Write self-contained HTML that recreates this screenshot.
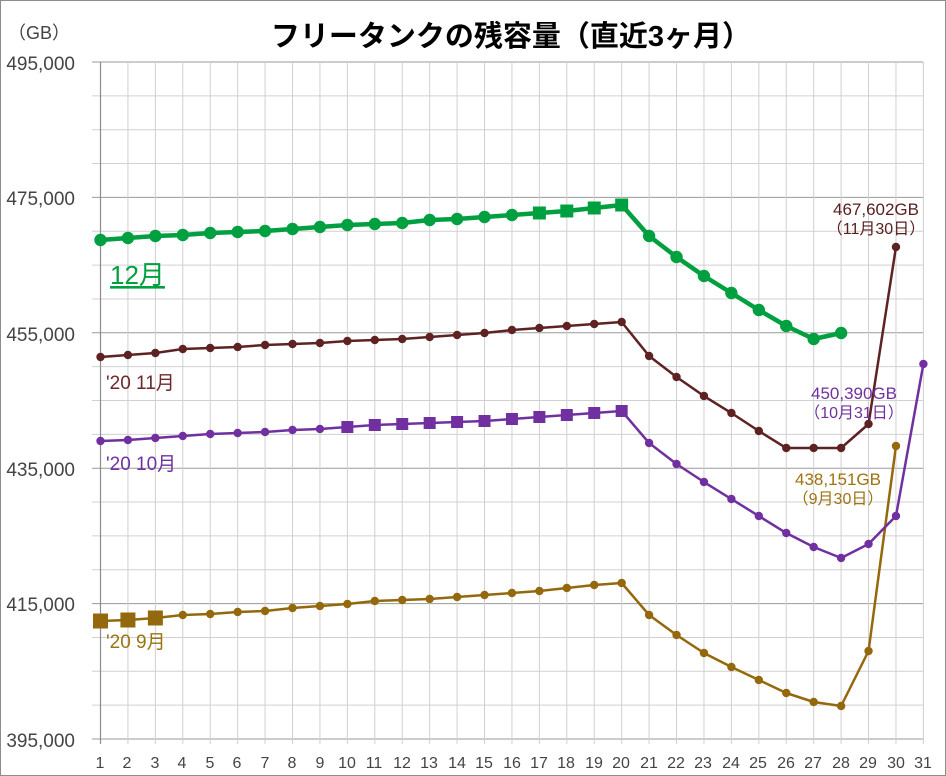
<!DOCTYPE html>
<html><head><meta charset="utf-8"><style>
body{margin:0;background:#fff}
svg{display:block;font-family:"Liberation Sans","Noto Sans CJK JP",sans-serif}
</style></head><body>
<svg id="s" width="946" height="776" viewBox="0 0 946 776" xmlns="http://www.w3.org/2000/svg">
<rect x="0.5" y="0.5" width="945" height="775" fill="#fff" stroke="#8c8c8c"/>
<g id="grid"></g>
<g id="series"></g>
<text x="511" y="46" text-anchor="middle" font-size="29" font-weight="bold" fill="#000">フリータンクの残容量（直近3ヶ月）</text>
<text x="8" y="39" font-size="18" fill="#444">（GB）</text>
<g font-size="19" fill="#444" text-anchor="end">
<text x="75" y="70">495,000</text><text x="75" y="205">475,000</text><text x="75" y="341">455,000</text>
<text x="75" y="476">435,000</text><text x="75" y="611">415,000</text><text x="75" y="747">395,000</text>
</g>
<g id="xl" font-size="16" fill="#444" text-anchor="middle">
<text x="100" y="768">1</text><text x="127" y="768">2</text><text x="155" y="768">3</text><text x="182" y="768">4</text><text x="210" y="768">5</text><text x="237" y="768">6</text><text x="265" y="768">7</text><text x="292" y="768">8</text><text x="320" y="768">9</text><text x="347" y="768">10</text><text x="374" y="768">11</text><text x="402" y="768">12</text><text x="429" y="768">13</text><text x="457" y="768">14</text><text x="484" y="768">15</text><text x="512" y="768">16</text><text x="539" y="768">17</text><text x="566" y="768">18</text><text x="594" y="768">19</text><text x="621" y="768">20</text><text x="649" y="768">21</text><text x="676" y="768">22</text><text x="703" y="768">23</text><text x="731" y="768">24</text><text x="758" y="768">25</text><text x="786" y="768">26</text><text x="813" y="768">27</text><text x="841" y="768">28</text><text x="868" y="768">29</text><text x="896" y="768">30</text><text x="923" y="768">31</text>
</g>
<text x="110" y="284" font-size="26" fill="#00a040" text-decoration="underline">12月</text>
<text x="106" y="389" font-size="19" fill="#6b2a2a">'20 11月</text>
<text x="106" y="470" font-size="19" fill="#7030a0">'20 10月</text>
<text x="106" y="648" font-size="19" fill="#9c7410">'20 9月</text>
<text x="876" y="215" font-size="17" fill="#5a2020" text-anchor="middle">467,602GB</text>
<text x="876" y="234" font-size="16" fill="#5a2020" text-anchor="middle">（11月30日）</text>
<text x="854" y="399" font-size="17" fill="#7030a0" text-anchor="middle">450,390GB</text>
<text x="854" y="418" font-size="16" fill="#7030a0" text-anchor="middle">（10月31日）</text>
<text x="838" y="485" font-size="17" fill="#9c7410" text-anchor="middle">438,151GB</text>
<text x="838" y="504" font-size="16" fill="#9c7410" text-anchor="middle">（9月30日）</text>
</svg>
<script>
var NS="http://www.w3.org/2000/svg";
function el(p,t,a){var e=document.createElementNS(NS,t);for(var k in a)e.setAttribute(k,a[k]);p.appendChild(e);return e;}
var g=document.getElementById('grid'),S=document.getElementById('series');
function X(d){return 100.5+(d-1)*27.43;}
for(var i=0;i<=20;i++){var y=62+i*677/20;var maj=i%4==0;el(g,'line',{x1:92,x2:923,y1:y,y2:y,stroke:maj?'#9a9a9a':'#d0d0d0','stroke-width':1});}
for(var d=2;d<=31;d++){el(g,'line',{x1:X(d),x2:X(d),y1:62,y2:744,stroke:'#d0d0d0','stroke-width':1});}
el(g,'line',{x1:100.5,x2:100.5,y1:62,y2:744,stroke:'#8c8c8c','stroke-width':1.2});
function ser(ys,col,w,r,sq,sr){var pts=ys.map(function(y,i){return X(i+1)+','+y}).join(' ');
el(S,'polyline',{points:pts,fill:'none',stroke:col,'stroke-width':w,'stroke-linejoin':'round'});
ys.forEach(function(y,i){var d=i+1;if(sq.indexOf(d)>=0){el(S,'rect',{x:X(d)-sr,y:y-sr,width:sr*2,height:sr*2,fill:col});}else el(S,'circle',{cx:X(d),cy:y,r:r,fill:col});});}
ser([621,620,618,615,614,612,611,608,606,604,601,600,599,597,595,593,591,588,585,583,615,635,653,667,680,693,702,706,651,446],'#94680c',2.5,4.2,[1,2,3],7.5);
ser([441,440,438,436,434,433,432,430,429,427,425,424,423,422,421,419,417,415,413,411,443,464,482,499,516,533,547,558,544,516,364],'#7030a0',2.5,4.2,[10,11,12,13,14,15,16,17,18,19,20],6);
ser([357,355,353,349,348,347,345,344,343,341,340,339,337,335,333,330,328,326,324,322,356,377,396,413,431,448,448,448,424,247],'#5e2222',2.5,4.2,[],0);
ser([240,238,236,235,233,232,231,229,227,225,224,223,220,219,217,215,213,211,208,205,236,257,276,293,310,326,339,333],'#00a040',4.5,6.2,[17,18,19,20],6.5);
</script>
</body></html>
